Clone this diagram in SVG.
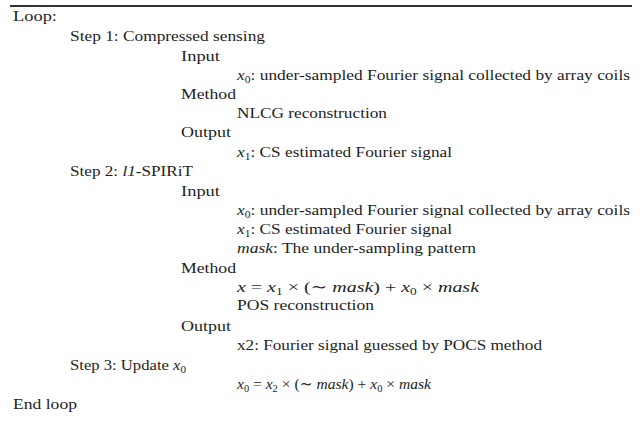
<svg xmlns="http://www.w3.org/2000/svg" width="644" height="435" viewBox="0 0 644 435">
<style>
text{font-family:"Liberation Serif","DejaVu Serif",serif;font-size:15px;fill:#1e1e1e}
.m{font-style:italic}
.s{font-size:10px}
</style>
<rect width="644" height="435" fill="#ffffff"/>
<line x1="10" y1="6" x2="632" y2="6" stroke="#333" stroke-width="2"/>
<g id="loop">
<text x="13" y="21" textLength="44" lengthAdjust="spacingAndGlyphs">Loop:</text>
</g>
<g id="step1">
<text x="70" y="41" textLength="195" lengthAdjust="spacingAndGlyphs">Step 1: Compressed sensing</text>
<text x="181" y="61" textLength="39" lengthAdjust="spacingAndGlyphs">Input</text>
<text x="237" y="80" textLength="393" lengthAdjust="spacingAndGlyphs"><tspan class="m">x</tspan><tspan class="s" dy="3">0</tspan><tspan dy="-3">: under-sampled Fourier signal collected by array coils</tspan></text>
<text x="181" y="99" textLength="55" lengthAdjust="spacingAndGlyphs">Method</text>
<text x="237" y="118" textLength="150" lengthAdjust="spacingAndGlyphs">NLCG reconstruction</text>
<text x="181" y="137" textLength="50" lengthAdjust="spacingAndGlyphs">Output</text>
<text x="237" y="157" textLength="215" lengthAdjust="spacingAndGlyphs"><tspan class="m">x</tspan><tspan class="s" dy="3">1</tspan><tspan dy="-3">: CS estimated Fourier signal</tspan></text>
</g>
<g id="step2">
<text x="70" y="176" textLength="123" lengthAdjust="spacingAndGlyphs">Step 2: <tspan class="m">l1</tspan>-SPIRiT</text>
<text x="181" y="196" textLength="39" lengthAdjust="spacingAndGlyphs">Input</text>
<text x="237" y="215" textLength="393" lengthAdjust="spacingAndGlyphs"><tspan class="m">x</tspan><tspan class="s" dy="3">0</tspan><tspan dy="-3">: under-sampled Fourier signal collected by array coils</tspan></text>
<text x="237" y="234" textLength="215" lengthAdjust="spacingAndGlyphs"><tspan class="m">x</tspan><tspan class="s" dy="3">1</tspan><tspan dy="-3">: CS estimated Fourier signal</tspan></text>
<text x="237" y="253" textLength="239" lengthAdjust="spacingAndGlyphs"><tspan class="m">mask</tspan>: The under-sampling pattern</text>
<text x="181" y="273" textLength="55" lengthAdjust="spacingAndGlyphs">Method</text>
<text x="237" y="292" textLength="242" lengthAdjust="spacingAndGlyphs"><tspan class="m">x</tspan> =  <tspan class="m">x</tspan><tspan class="s" dy="3">1</tspan><tspan dy="-3"> × (∼ </tspan><tspan class="m">mask</tspan>) + <tspan class="m">x</tspan><tspan class="s" dy="3">0</tspan><tspan dy="-3"> × </tspan><tspan class="m">mask</tspan></text>
<text x="237" y="310" textLength="137" lengthAdjust="spacingAndGlyphs">POS reconstruction</text>
<text x="181" y="331" textLength="50" lengthAdjust="spacingAndGlyphs">Output</text>
<text x="237" y="350" textLength="305" lengthAdjust="spacingAndGlyphs">x2: Fourier signal guessed by POCS method</text>
</g>
<g id="step3">
<text x="70" y="370" textLength="116" lengthAdjust="spacingAndGlyphs">Step 3: Update <tspan class="m">x</tspan><tspan class="s" dy="3">0</tspan></text>
<text x="237" y="389" textLength="194" lengthAdjust="spacingAndGlyphs"><tspan class="m">x</tspan><tspan class="s" dy="3">0</tspan><tspan dy="-3"> =  </tspan><tspan class="m">x</tspan><tspan class="s" dy="3">2</tspan><tspan dy="-3"> × (∼ </tspan><tspan class="m">mask</tspan>) + <tspan class="m">x</tspan><tspan class="s" dy="3">0</tspan><tspan dy="-3"> × </tspan><tspan class="m">mask</tspan></text>
</g>
<g id="endloop">
<text x="13" y="409" textLength="64" lengthAdjust="spacingAndGlyphs">End loop</text>
</g>
</svg>
